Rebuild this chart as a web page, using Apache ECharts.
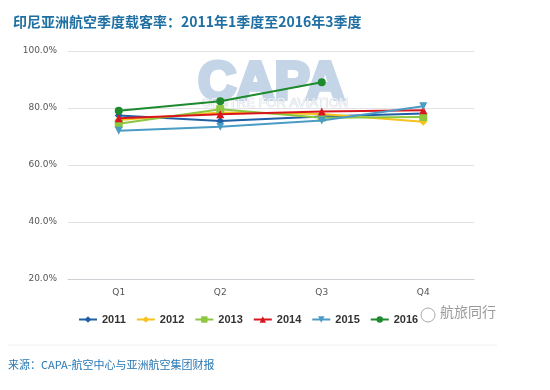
<!DOCTYPE html>
<html>
<head>
<meta charset="utf-8">
<script src="https://cdn.jsdelivr.net/npm/echarts@6/dist/echarts.min.js"></script>
<style>html,body{margin:0;padding:0;background:#fff}#c{width:550px;height:390px}</style>
</head>
<body>
<div id="c"></div>
<script>
var categories = ['Q1', 'Q2', 'Q3', 'Q4'];
var yTicks = [20, 40, 60, 80, 100];
var years = ['2011', '2012', '2013', '2014', '2015', '2016'];
var s2011 = [77.4, 75.4, 77.0, 78.1];
var s2012 = [75.8, 78.4, 77.9, 75.2];
var s2013 = [74.5, 79.6, 76.6, 76.8];
var s2014 = [76.4, 77.8, 78.8, 79.2];
var s2015 = [72.0, 73.4, 75.6, 80.6];
var s2016 = [79.0, 82.4, 89.0, null];

var seriesData = [s2011, s2012, s2013, s2014, s2015, s2016];
var colors = ['#1f5fa6', '#f7c21b', '#8dc63f', '#d9161e', '#4a9cc4', '#1e8a2e'];
var symbols = ['diamond', 'diamond', 'rect', 'triangle', 'path://M0,0 L10,0 L5,9 Z', 'circle'];

var chart = echarts.init(document.getElementById('c'), null, {renderer: 'canvas'});
var series = years.map(function (y, i) {
  return {
    name: y,
    type: 'line',
    data: seriesData[i],
    symbol: symbols[i],
    symbolSize: 8,
    lineStyle: {width: 2, color: colors[i]},
    itemStyle: {color: colors[i]},
    z: 3 + i
  };
});

chart.setOption({
  animation: false,
  backgroundColor: '#fff',
  grid: {left: 68, right: 76, top: 51, bottom: 111, containLabel: false},
  title: {
    text: '印尼亚洲航空季度载客率：2011年1季度至2016年3季度',
    left: 8, top: 10,
    textStyle: {fontSize: 14, fontWeight: 'bold', color: '#1f6fa3', fontFamily: 'Noto Sans CJK SC'}
  },
  legend: {
    data: years,
    left: 73, top: 309,
    itemWidth: 18, itemHeight: 8, itemGap: 10,
    textStyle: {fontSize: 11, fontWeight: 'bold', color: '#333', fontFamily: 'Liberation Sans'}
  },
  xAxis: {
    type: 'category',
    data: categories,
    boundaryGap: true,
    axisLine: {lineStyle: {color: '#cfcfd6'}},
    axisTick: {alignWithLabel: true, length: 4, lineStyle: {color: '#cfcfd6'}},
    axisLabel: {fontSize: 9, color: '#555', margin: 9, fontFamily: 'DejaVu Sans'}
  },
  yAxis: {
    type: 'value',
    min: yTicks[0], max: yTicks[yTicks.length - 1], interval: 20,
    axisLine: {show: false},
    axisTick: {show: false},
    splitLine: {lineStyle: {color: '#e2e2e6'}},
    axisLabel: {
      fontSize: 9, color: '#555', margin: 11, fontFamily: 'DejaVu Sans',
      formatter: function (v) { return v.toFixed(1) + '%'; }
    }
  },
  graphic: [
    {type: 'text', left: 196, top: 56, z: 1,
      style: {text: 'CAPA', fontSize: 53, fontWeight: 'bold', fontFamily: 'Liberation Sans', fill: '#c5d5e8', stroke: '#c5d5e8', lineWidth: 4}},
    {type: 'text', left: 201, top: 97, z: 2,
      style: {text: 'CENTRE FOR AVIATION', fontSize: 13, fontFamily: 'Liberation Sans', fill: 'rgba(255,255,255,0.6)', stroke: '#cdd6e0', lineWidth: 0.7}},
    {type: 'line', shape: {x1: 8, y1: 345, x2: 497, y2: 345}, style: {stroke: '#f0f0f0', lineWidth: 1}},
    {type: 'text', left: 8, top: 359,
      style: {text: '来源：CAPA-航空中心与亚洲航空集团财报', fontSize: 11, fill: '#2a78b3', fontFamily: 'Noto Sans CJK SC'}},
    {type: 'text', left: 440, top: 305, z: 10,
      style: {text: '航旅同行', fontSize: 14, fill: '#9a9a9a', fontFamily: 'Noto Sans CJK SC'}},
    {type: 'circle', shape: {cx: 428, cy: 315, r: 7}, z: 10, style: {fill: 'rgba(255,255,255,0.85)', stroke: '#aaa', lineWidth: 1}}
  ],
  series: series
});
</script>
</body>
</html>
